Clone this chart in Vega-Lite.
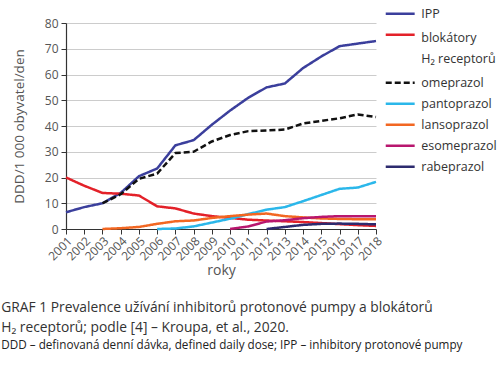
{
  "$schema": "https://vega.github.io/schema/vega-lite/v6.json",
  "width": 310,
  "height": 206,
  "autosize": {"type": "none"},
  "padding": {"left": 66, "top": 23, "right": 124, "bottom": 136},
  "background": "white",
  "config": {
    "font": "Open Sans",
    "view": {"stroke": null}
  },
  "title": {
    "text": ["GRAF 1   Prevalence užívání inhibitorů protonové pumpy a blokátorů", "H₂ receptorů; podle [4] – Kroupa, et al., 2020."],
    "subtitle": "DDD – definovaná denní dávka, defined daily dose; IPP – inhibitory protonové pumpy",
    "orient": "bottom",
    "anchor": "start",
    "frame": "bounds",
    "offset": 24,
    "fontSize": 13.8,
    "fontWeight": "normal",
    "color": "#333333",
    "lineHeight": 19.5,
    "subtitleFontSize": 11.7,
    "subtitleColor": "#222222",
    "subtitlePadding": 6,
    "dx": -11
  },
  "data": {
    "values": [
      {"year": "2001", "series": "IPP", "value": 6.5},
      {"year": "2002", "series": "IPP", "value": 8.5},
      {"year": "2003", "series": "IPP", "value": 10},
      {"year": "2004", "series": "IPP", "value": 14},
      {"year": "2005", "series": "IPP", "value": 20.5},
      {"year": "2006", "series": "IPP", "value": 23.5},
      {"year": "2007", "series": "IPP", "value": 32.5},
      {"year": "2008", "series": "IPP", "value": 34.5},
      {"year": "2009", "series": "IPP", "value": 40.5},
      {"year": "2010", "series": "IPP", "value": 46},
      {"year": "2011", "series": "IPP", "value": 51},
      {"year": "2012", "series": "IPP", "value": 55},
      {"year": "2013", "series": "IPP", "value": 56.5},
      {"year": "2014", "series": "IPP", "value": 62.5},
      {"year": "2015", "series": "IPP", "value": 67},
      {"year": "2016", "series": "IPP", "value": 71},
      {"year": "2017", "series": "IPP", "value": 72},
      {"year": "2018", "series": "IPP", "value": 73},

      {"year": "2001", "series": "blokátory", "value": 20},
      {"year": "2002", "series": "blokátory", "value": 16.8},
      {"year": "2003", "series": "blokátory", "value": 14},
      {"year": "2004", "series": "blokátory", "value": 13.7},
      {"year": "2005", "series": "blokátory", "value": 13},
      {"year": "2006", "series": "blokátory", "value": 8.8},
      {"year": "2007", "series": "blokátory", "value": 8},
      {"year": "2008", "series": "blokátory", "value": 6},
      {"year": "2009", "series": "blokátory", "value": 5},
      {"year": "2010", "series": "blokátory", "value": 4.3},
      {"year": "2011", "series": "blokátory", "value": 3.6},
      {"year": "2012", "series": "blokátory", "value": 3.3},
      {"year": "2013", "series": "blokátory", "value": 3.0},
      {"year": "2014", "series": "blokátory", "value": 2.7},
      {"year": "2015", "series": "blokátory", "value": 2.3},
      {"year": "2016", "series": "blokátory", "value": 1.9},
      {"year": "2017", "series": "blokátory", "value": 1.5},
      {"year": "2018", "series": "blokátory", "value": 1.2},

      {"year": "2003", "series": "omeprazol", "value": 10},
      {"year": "2004", "series": "omeprazol", "value": 13.5},
      {"year": "2005", "series": "omeprazol", "value": 19.5},
      {"year": "2006", "series": "omeprazol", "value": 21.5},
      {"year": "2007", "series": "omeprazol", "value": 29.5},
      {"year": "2008", "series": "omeprazol", "value": 30},
      {"year": "2009", "series": "omeprazol", "value": 34},
      {"year": "2010", "series": "omeprazol", "value": 36.5},
      {"year": "2011", "series": "omeprazol", "value": 38},
      {"year": "2012", "series": "omeprazol", "value": 38.3},
      {"year": "2013", "series": "omeprazol", "value": 38.6},
      {"year": "2014", "series": "omeprazol", "value": 41},
      {"year": "2015", "series": "omeprazol", "value": 42},
      {"year": "2016", "series": "omeprazol", "value": 43},
      {"year": "2017", "series": "omeprazol", "value": 44.5},
      {"year": "2018", "series": "omeprazol", "value": 43.5},

      {"year": "2006", "series": "pantoprazol", "value": 0},
      {"year": "2007", "series": "pantoprazol", "value": 0.2},
      {"year": "2008", "series": "pantoprazol", "value": 1},
      {"year": "2009", "series": "pantoprazol", "value": 2.5},
      {"year": "2010", "series": "pantoprazol", "value": 4},
      {"year": "2011", "series": "pantoprazol", "value": 5.8},
      {"year": "2012", "series": "pantoprazol", "value": 7.5},
      {"year": "2013", "series": "pantoprazol", "value": 8.5},
      {"year": "2014", "series": "pantoprazol", "value": 10.8},
      {"year": "2015", "series": "pantoprazol", "value": 13.2},
      {"year": "2016", "series": "pantoprazol", "value": 15.6},
      {"year": "2017", "series": "pantoprazol", "value": 16.1},
      {"year": "2018", "series": "pantoprazol", "value": 18.3},

      {"year": "2003", "series": "lansoprazol", "value": 0},
      {"year": "2004", "series": "lansoprazol", "value": 0.3},
      {"year": "2005", "series": "lansoprazol", "value": 0.8},
      {"year": "2006", "series": "lansoprazol", "value": 2},
      {"year": "2007", "series": "lansoprazol", "value": 3},
      {"year": "2008", "series": "lansoprazol", "value": 3.3},
      {"year": "2009", "series": "lansoprazol", "value": 4.3},
      {"year": "2010", "series": "lansoprazol", "value": 5},
      {"year": "2011", "series": "lansoprazol", "value": 5.6},
      {"year": "2012", "series": "lansoprazol", "value": 6},
      {"year": "2013", "series": "lansoprazol", "value": 5},
      {"year": "2014", "series": "lansoprazol", "value": 4.5},
      {"year": "2015", "series": "lansoprazol", "value": 4.1},
      {"year": "2016", "series": "lansoprazol", "value": 3.9},
      {"year": "2017", "series": "lansoprazol", "value": 3.8},
      {"year": "2018", "series": "lansoprazol", "value": 3.8},

      {"year": "2010", "series": "esomeprazol", "value": 0},
      {"year": "2011", "series": "esomeprazol", "value": 1},
      {"year": "2012", "series": "esomeprazol", "value": 2.9},
      {"year": "2013", "series": "esomeprazol", "value": 3.4},
      {"year": "2014", "series": "esomeprazol", "value": 4.2},
      {"year": "2015", "series": "esomeprazol", "value": 4.7},
      {"year": "2016", "series": "esomeprazol", "value": 5},
      {"year": "2017", "series": "esomeprazol", "value": 5},
      {"year": "2018", "series": "esomeprazol", "value": 5},

      {"year": "2012", "series": "rabeprazol", "value": 0},
      {"year": "2013", "series": "rabeprazol", "value": 0.8},
      {"year": "2014", "series": "rabeprazol", "value": 1.6},
      {"year": "2015", "series": "rabeprazol", "value": 2},
      {"year": "2016", "series": "rabeprazol", "value": 2.1},
      {"year": "2017", "series": "rabeprazol", "value": 2},
      {"year": "2018", "series": "rabeprazol", "value": 1.8}
    ]
  },
  "mark": {"type": "line", "strokeWidth": 2.5, "strokeJoin": "round"},
  "encoding": {
    "x": {
      "field": "year",
      "type": "ordinal",
      "scale": {"type": "point", "padding": 0},
      "axis": {
        "title": "roky",
        "titleFontSize": 14,
        "titleFontWeight": "normal",
        "titleColor": "#555555",
        "titlePadding": 1,
        "labelAngle": -45,
        "labelFontSize": 12,
        "labelColor": "#555555",
        "labelPadding": 1,
        "domainColor": "#333333",
        "domainWidth": 1.2,
        "tickColor": "#333333",
        "tickSize": 5,
        "grid": false
      }
    },
    "y": {
      "field": "value",
      "type": "quantitative",
      "scale": {"domain": [0, 80], "nice": false},
      "axis": {
        "title": "DDD/1 000 obyvatel/den",
        "titleFontSize": 13.5,
        "titleFontWeight": "normal",
        "titleColor": "#555555",
        "titlePadding": 18,
        "values": [0, 10, 20, 30, 40, 50, 60, 70, 80],
        "labelFontSize": 12,
        "labelColor": "#555555",
        "labelPadding": 3,
        "domainColor": "#333333",
        "domainWidth": 1.2,
        "tickColor": "#333333",
        "tickSize": 5,
        "gridColor": "#cccccc",
        "gridWidth": 1
      }
    },
    "color": {
      "field": "series",
      "type": "nominal",
      "scale": {
        "domain": ["IPP", "blokátory", "H₂ receptorů", "omeprazol", "pantoprazol", "lansoprazol", "esomeprazol", "rabeprazol"],
        "range": ["#3b3f9c", "#e32129", "transparent", "#111111", "#2bb7ea", "#f26722", "#b8166e", "#2d2b6e"]
      },
      "legend": {
        "title": null,
        "orient": "none",
        "legendX": 327.7,
        "legendY": -15.8,
        "symbolType": "M-3,0H3",
        "symbolSize": 93,
        "symbolStrokeWidth": 2.5,
        "labelFontSize": 12.5,
        "labelColor": "#333333",
        "labelOffset": 14.6,
        "rowPadding": 8,
        "encode": {
          "labels": {
            "update": {
              "dy": {"signal": "datum.label == 'blokátory' ? 3.5 : datum.label == 'H₂ receptorů' ? -3.5 : 0"}
            }
          }
        }
      }
    },
    "strokeDash": {
      "field": "series",
      "type": "nominal",
      "scale": {
        "domain": ["IPP", "blokátory", "H₂ receptorů", "omeprazol", "pantoprazol", "lansoprazol", "esomeprazol", "rabeprazol"],
        "range": [[1, 0], [1, 0], [1, 0], [6, 3], [1, 0], [1, 0], [1, 0], [1, 0]]
      },
      "legend": {
        "title": null,
        "orient": "none",
        "legendX": 327.7,
        "legendY": -15.8,
        "symbolType": "M-3,0H3",
        "symbolSize": 93,
        "symbolStrokeWidth": 2.5,
        "labelFontSize": 12.5,
        "labelColor": "#333333",
        "labelOffset": 14.6,
        "rowPadding": 8,
        "encode": {
          "labels": {
            "update": {
              "dy": {"signal": "datum.label == 'blokátory' ? 3.5 : datum.label == 'H₂ receptorů' ? -3.5 : 0"}
            }
          }
        }
      }
    }
  }
}
